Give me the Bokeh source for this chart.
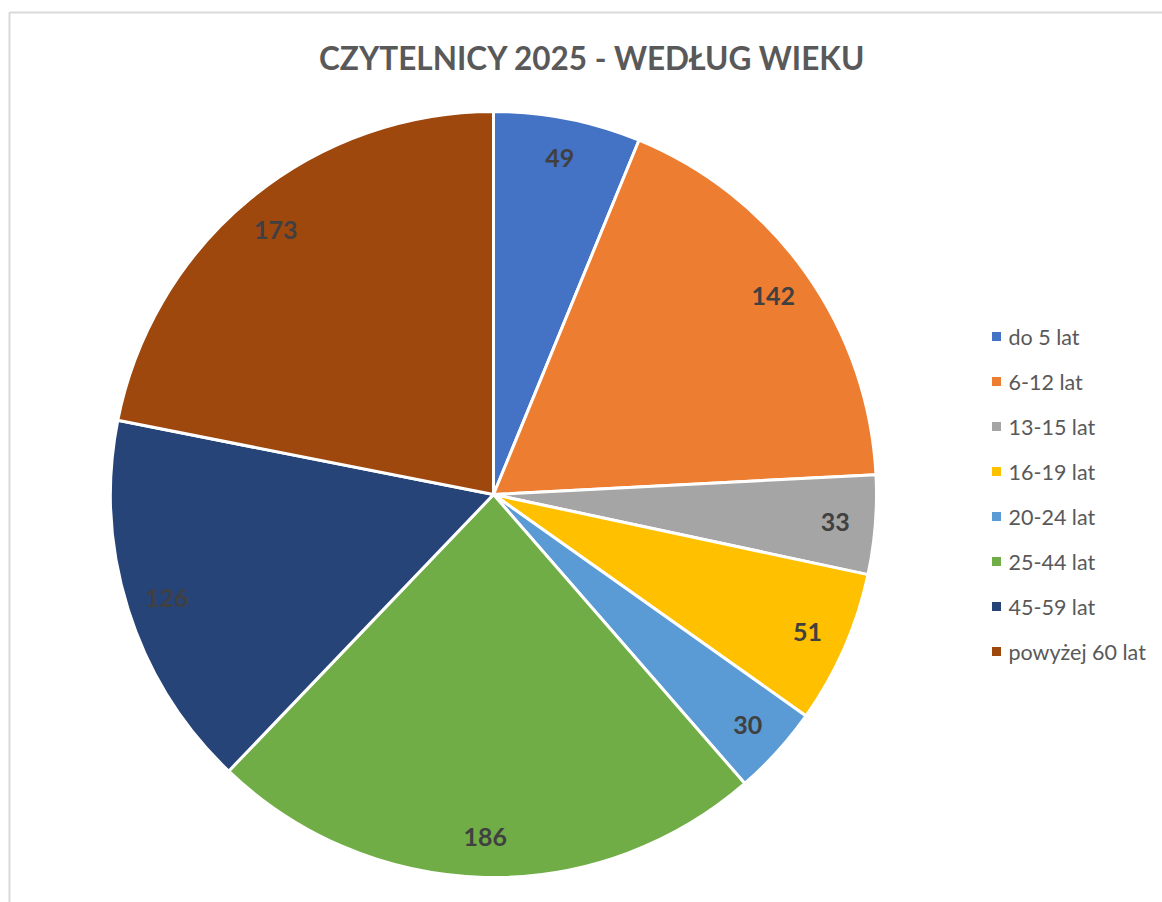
import math
from bokeh.plotting import figure
from bokeh.models import Range1d
from bokeh.core.properties import value
from bokeh.embed import file_html
from bokeh.resources import INLINE

categories = ["do 5 lat", "6-12 lat", "13-15 lat", "16-19 lat", "20-24 lat", "25-44 lat", "45-59 lat", "powyżej 60 lat"]
counts = [49, 142, 33, 51, 30, 186, 126, 173]
colors = ["#4472C4", "#ED7D31", "#A5A5A5", "#FFC000", "#5B9BD5", "#70AD47", "#264478", "#9E480E"]
title_text = "CZYTELNICY 2025 - WEDŁUG WIEKU"

W, H = 1162, 902
FONT = "Lato"
p = figure(width=W, height=H, output_backend="svg", toolbar_location=None,
           x_range=Range1d(0, W), y_range=Range1d(0, H),
           x_axis_type=None, y_axis_type=None, min_border=0)
p.outline_line_color = None
p.grid.visible = False
p.background_fill_color = "white"

# frame of the chart area (cropped)
p.line([9, 9, W], [0, H - 12, H - 12], line_color="#d9d9d9", line_width=2)

cx, cy, r = 493, H - 494, 383
total = sum(counts)
starts, ends, lx, ly = [], [], [], []
cum = 0
for v in counts:
    a0 = math.pi / 2 - 2 * math.pi * cum / total
    a1 = math.pi / 2 - 2 * math.pi * (cum + v) / total
    mid = math.pi / 2 - 2 * math.pi * (cum + v / 2) / total
    starts.append(a0); ends.append(a1)
    lx.append(cx + 0.895 * r * math.cos(mid)); ly.append(cy + 0.895 * r * math.sin(mid))
    cum += v

p.wedge(x=[cx] * len(counts), y=[cy] * len(counts), radius=r, start_angle=starts, end_angle=ends,
        direction="clock", fill_color=colors, line_color="white", line_width=3)

p.text(x=lx, y=ly, text=[str(v) for v in counts], text_font=value(FONT), text_font_style="bold",
       text_font_size="25px", text_color="#404040", text_align="center", text_baseline="middle")

# title
p.text(x=[592], y=[H - 57], text=[title_text], text_font=value(FONT), text_font_style="bold",
       text_font_size="31.5px", text_color="#595959", text_align="center", text_baseline="middle")

# legend
leg_x = 996
leg_y = [H - 336 - 45 * i for i in range(len(categories))]
p.rect(x=[leg_x] * len(categories), y=leg_y, width=9, height=9, fill_color=colors, line_color=None)
p.text(x=[leg_x + 12] * len(categories), y=leg_y, text=categories, text_font=value(FONT),
       text_font_size="21.5px", text_color="#595959", text_align="left", text_baseline="middle")

open("out.html", "w").write(file_html(p, INLINE))
